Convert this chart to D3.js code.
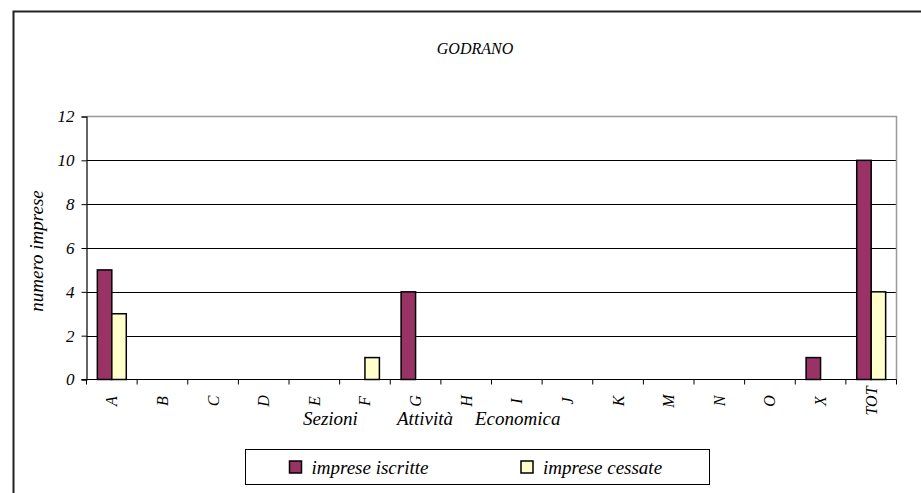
<!DOCTYPE html>
<html>
<head>
<meta charset="utf-8">
<script src="https://cdn.jsdelivr.net/npm/d3@7"></script>
<style>
  body { margin: 0; background: #fff; }
  svg { display: block; }
  text { font-family: "Liberation Serif", "Times New Roman", "DejaVu Serif", serif; font-style: italic; fill: #000; }
</style>
</head>
<body>
<svg id="chart" width="921" height="493"></svg>
<script>
const categories = ["A","B","C","D","E","F","G","H","I","J","K","M","N","O","X","TOT"];
const series = ["imprese iscritte", "imprese cessate"];
const iscritte = [5,0,0,0,0,0,4,0,0,0,0,0,0,0,1,10];
const cessate  = [3,0,0,0,0,1,0,0,0,0,0,0,0,0,0,4];
const yTicks = [0,2,4,6,8,10,12];
const colors = ["#993366", "#FFFFCC"];
const title = "GODRANO";
const yTitle = "numero imprese";
const xTitleWords = ["Sezioni", "Attività", "Economica"];

const svg = d3.select("#chart");
const W = 921, H = 493;
const plot = {left: 86.5, right: 896.5, top: 116.5, bottom: 379.5};
const serif = '"Liberation Serif", "Times New Roman", "DejaVu Serif", serif';

// outer frame
svg.append("rect").attr("x", 13.5).attr("y", 11.5).attr("width", W + 20).attr("height", H + 20)
  .attr("fill", "#fff").attr("stroke", "#222").attr("stroke-width", 2);

const x = d3.scaleBand().domain(categories).range([plot.left, plot.right]).padding(0);
const bw = x.bandwidth() / 3.5;
const xs = d3.scaleBand().domain(series).range([0.75 * bw, x.bandwidth() - 0.75 * bw]).padding(0);
const y = d3.scaleLinear().domain([0, 12]).range([plot.bottom, plot.top]);

// gridlines
svg.append("g").selectAll("line").data(yTicks.filter(d => d > 0 && d < 12)).join("line")
  .attr("x1", plot.left).attr("x2", plot.right)
  .attr("y1", d => Math.round(y(d)) + 0.5).attr("y2", d => Math.round(y(d)) + 0.5)
  .attr("stroke", "#000").attr("stroke-width", 1);
// plot area border top/right (gray)
svg.append("path")
  .attr("d", `M${plot.left},${y(12)}H${plot.right}V${plot.bottom}`)
  .attr("fill", "none").attr("stroke", "#999").attr("stroke-width", 1.5);

// bars
const data = [];
categories.forEach((c, i) => {
  data.push({c, s: series[0], v: iscritte[i], color: colors[0]});
  data.push({c, s: series[1], v: cessate[i], color: colors[1]});
});
svg.append("g").selectAll("rect").data(data.filter(d => d.v > 0)).join("rect")
  .attr("x", d => x(d.c) + xs(d.s))
  .attr("width", xs.bandwidth())
  .attr("y", d => y(d.v))
  .attr("height", d => y(0) - y(d.v))
  .attr("fill", d => d.color)
  .attr("stroke", "#000").attr("stroke-width", 1.5);

// y axis
const yAxis = svg.append("g").attr("transform", `translate(${plot.left},0)`)
  .call(d3.axisLeft(y).tickValues(yTicks).tickSize(5).tickPadding(7).tickFormat(d3.format("d")));
yAxis.select(".domain").attr("stroke", "#000").attr("stroke-width", 1.2);
yAxis.selectAll(".tick line").attr("stroke", "#000");
yAxis.selectAll(".tick text").style("font-family", serif)
  .style("font-style", "italic").style("font-size", "17px");

// x axis
svg.append("line").attr("x1", plot.left - 5).attr("x2", plot.right)
  .attr("y1", plot.bottom).attr("y2", plot.bottom).attr("stroke", "#000").attr("stroke-width", 1.2);
const bounds = categories.map(c => x(c)).concat([x(categories[categories.length - 1]) + x.bandwidth()]);
svg.append("g").selectAll("line").data(bounds).join("line")
  .attr("x1", d => d).attr("x2", d => d)
  .attr("y1", plot.bottom).attr("y2", plot.bottom + 5)
  .attr("stroke", "#000").attr("stroke-width", 1);
svg.append("g").selectAll("text").data(categories).join("text")
  .attr("transform", d => `translate(${x(d) + x.bandwidth() / 2 + 5.5},401) rotate(-90)`)
  .attr("text-anchor", "middle")
  .style("font-size", "16px")
  .text(d => d);

// x title
const xt = svg.append("text").attr("y", 425).style("font-size", "19px");
[303, 397, 475].forEach((px, i) => {
  xt.append("tspan").attr("x", px).text(xTitleWords[i]);
});

// y title
svg.append("text").attr("transform", `translate(43,251) rotate(-90)`)
  .attr("text-anchor", "middle").style("font-size", "19px").text(yTitle);

// title
svg.append("text").attr("x", 475).attr("y", 54).attr("text-anchor", "middle")
  .style("font-size", "16px").text(title);

// legend
svg.append("rect").attr("x", 245.5).attr("y", 449.5).attr("width", 464).attr("height", 35)
  .attr("fill", "#fff").attr("stroke", "#000").attr("stroke-width", 1);
const legX = [289.5, 521];
series.forEach((s, i) => {
  svg.append("rect").attr("x", legX[i]).attr("y", 461).attr("width", 12).attr("height", 12)
    .attr("fill", colors[i]).attr("stroke", "#000").attr("stroke-width", 1.5);
  svg.append("text").attr("x", legX[i] + 22).attr("y", 473.5).style("font-size", "19px").text(s);
});
</script>
</body>
</html>
